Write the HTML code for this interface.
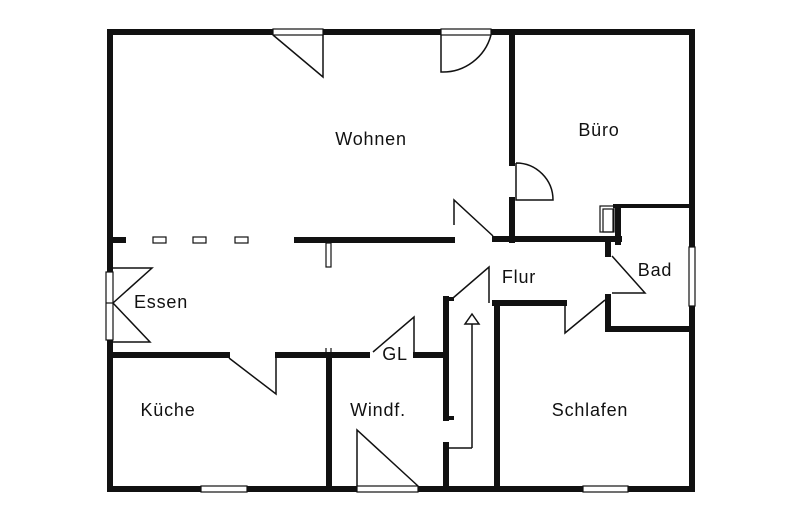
<!DOCTYPE html>
<html><head><meta charset="utf-8"><style>html,body{margin:0;padding:0;background:#fff}svg{display:block}text{font-family:"Liberation Sans",sans-serif;font-size:18px;letter-spacing:0.8px;fill:#111;text-anchor:middle}</style></head><body>
<svg width="800" height="532" viewBox="0 0 800 532" xmlns="http://www.w3.org/2000/svg">
<g stroke="#111" stroke-width="6" fill="none" stroke-linecap="square">
<line x1="110" y1="32" x2="692" y2="32"/>
<line x1="110" y1="32" x2="110" y2="489"/>
<line x1="692" y1="32" x2="692" y2="489"/>
<line x1="110" y1="489" x2="692" y2="489"/>
<line x1="512" y1="32" x2="512" y2="163"/>
<line x1="512" y1="200" x2="512" y2="240"/>
<line x1="110" y1="240" x2="123" y2="240"/>
<line x1="297" y1="240" x2="452" y2="240"/>
<line x1="495" y1="239" x2="619" y2="239"/>
<line x1="615" y1="206" x2="692" y2="206" stroke-width="4"/>
<line x1="618" y1="208" x2="618" y2="242"/>
<line x1="608" y1="242" x2="608" y2="254"/>
<line x1="608" y1="297" x2="608" y2="329"/>
<line x1="608" y1="329" x2="692" y2="329"/>
<line x1="495" y1="303" x2="564" y2="303"/>
<line x1="497" y1="303" x2="497" y2="489"/>
<line x1="446" y1="299" x2="446" y2="418"/>
<line x1="446" y1="299" x2="452" y2="299" stroke-width="4"/>
<line x1="446" y1="418" x2="452" y2="418" stroke-width="4"/>
<line x1="446" y1="445" x2="446" y2="489"/>
<line x1="110" y1="355" x2="227" y2="355"/>
<line x1="278" y1="355" x2="367" y2="355"/>
<line x1="416" y1="355" x2="444" y2="355"/>
<line x1="329" y1="355" x2="329" y2="489"/>
</g>
<g fill="#fff" stroke="#111" stroke-width="1.2">
<rect x="273" y="29" width="50" height="6"/>
<rect x="441" y="29" width="50" height="6"/>
<rect x="106" y="272" width="7" height="68"/>
<line x1="106" y1="303" x2="113" y2="303"/>
<rect x="201" y="486" width="46" height="6"/>
<rect x="357" y="486" width="61" height="6"/>
<rect x="583" y="486" width="45" height="6"/>
<rect x="689" y="247" width="6" height="59"/>
<rect x="153" y="237" width="13" height="6"/>
<rect x="193" y="237" width="13" height="6"/>
<rect x="235" y="237" width="13" height="6"/>
<rect x="326" y="243" width="5" height="24"/>
<rect x="600" y="206" width="14" height="26" fill="none"/>
<rect x="603" y="209" width="10" height="23" fill="none"/>
<line x1="326" y1="348" x2="326" y2="353"/><line x1="331" y1="348" x2="331" y2="353"/>
</g>
<g stroke="#111" stroke-width="1.5" fill="none">
<polyline points="273,35 323,77 323,35"/>
<path d="M441,35 L441,72 A50,50 0 0 0 491,35"/>
<path d="M516,163 L516,200 L553,200 A37,37 0 0 0 516,163"/>
<polyline points="454,225 454,200 493,236"/>
<polyline points="612,256 645,293 612,293"/>
<polyline points="565,303 565,333 605,300"/>
<polyline points="453,298 489,267 489,303"/>
<polyline points="472,448 472,324"/>
<polyline points="449,448 472,448"/>
<polygon points="465,324 479,324 472,314"/>
<polyline points="113,268 152,268 113,303 150,342 113,342"/>
<polyline points="229,358 276,394 276,355"/>
<polyline points="373,352 414,317 414,355"/>
<polyline points="357,486 357,430 418,486"/>
</g>
<text x="371" y="145">Wohnen</text>
<text x="599" y="136">Büro</text>
<text x="655" y="276">Bad</text>
<text x="519" y="283">Flur</text>
<text x="161" y="308">Essen</text>
<text x="395" y="360">GL</text>
<text x="168" y="416">Küche</text>
<text x="378" y="416">Windf.</text>
<text x="590" y="416">Schlafen</text>
</svg>
</body></html>
